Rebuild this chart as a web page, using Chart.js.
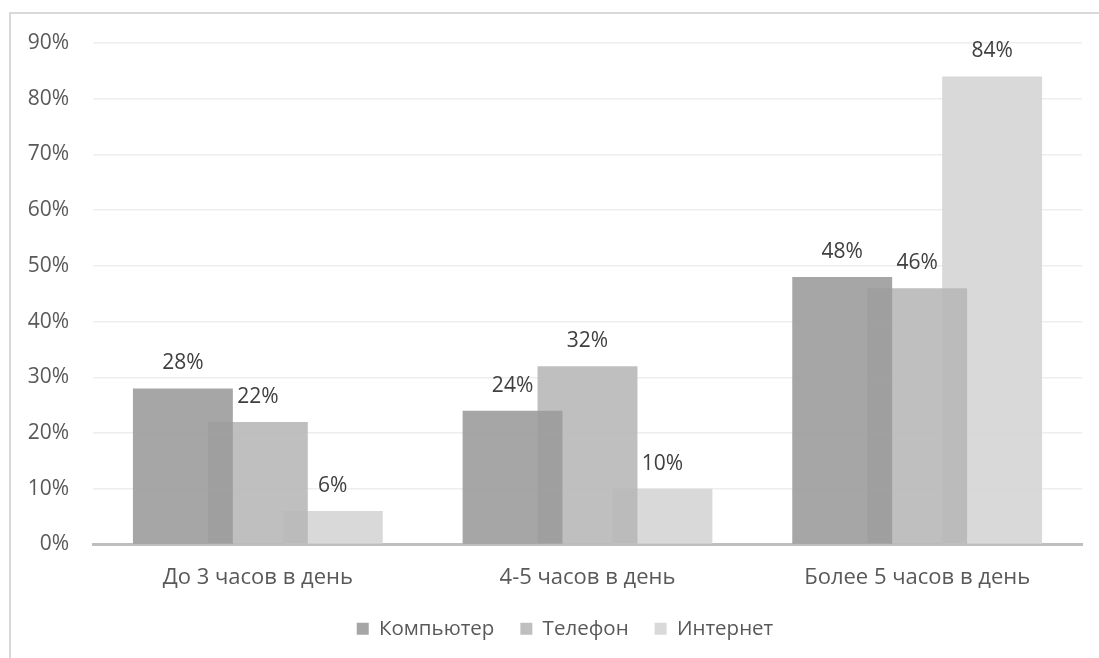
<!DOCTYPE html>
<html lang="ru">
<head>
<meta charset="utf-8">
<title>Время за компьютером, телефоном и в интернете</title>
<script src="https://cdn.jsdelivr.net/npm/chart.js@4.4.1/dist/chart.umd.min.js"></script>
<style>
    html, body { margin: 0; padding: 0; background: #ffffff; overflow: hidden; }
    #frame {
        position: absolute;
        left: 9px; top: 12px;
        width: 1100px; height: 700px;
        border: 2px solid #d9d9d9;
        box-sizing: border-box;
    }
    #wrap { position: absolute; left: 0; top: 0; width: 1099px; height: 658px; }
</style>
</head>
<body>
<div id="frame"></div>
<div id="wrap"><canvas id="timeChart"></canvas></div>
<script>
// =========================================================
// DATA
// =========================================================
const categories = ["До 3 часов в день", "4-5 часов в день", "Более 5 часов в день"];
const computerValues = [28, 24, 48];
const phoneValues = [22, 32, 46];
const internetValues = [6, 10, 84];
const seriesNames = ["Компьютер", "Телефон", "Интернет"];

const FONT = "'Open Sans', 'DejaVu Sans', sans-serif";

// =========================================================
// PLUGINS
// =========================================================

// value label above each bar
const barLabels = {
    id: "barLabels",
    afterDatasetsDraw(chart) {
        const ctx = chart.ctx;
        ctx.save();
        ctx.font = "21px " + FONT;
        ctx.fillStyle = "#404040";
        ctx.textAlign = "center";
        ctx.textBaseline = "middle";
        chart.data.datasets.forEach((ds, i) => {
            const meta = chart.getDatasetMeta(i);
            meta.data.forEach((bar, j) => {
                ctx.fillText(ds.data[j] + "%", bar.x, bar.y - 25);
            });
        });
        ctx.restore();
    }
};

// legend in the original sits a bit right of the canvas centre
const legendShift = {
    id: "legendShift",
    afterLayout(chart) {
        if (chart.legend) chart.legend.left += 48;
    }
};

function renderChart() {
    const ctx = document.getElementById("timeChart");

    new Chart(ctx, {
        type: "bar",
        data: {
            labels: categories,
            datasets: [
                { label: seriesNames[0], data: computerValues, backgroundColor: "rgba(156, 156, 156, 0.9)" },
                { label: seriesNames[1], data: phoneValues, backgroundColor: "rgba(184, 184, 184, 0.9)" },
                { label: seriesNames[2], data: internetValues, backgroundColor: "rgba(213, 213, 213, 0.9)" }
            ]
        },
        options: {
            responsive: true,
            maintainAspectRatio: false,
            animation: false,
            categoryPercentage: 0.682,
            barPercentage: 1.333,
            layout: { padding: { top: 43, right: 17, bottom: 9, left: 0 } },
            scales: {
                x: {
                    afterFit(scale) { scale.height = 48; },
                    grid: { display: false, drawTicks: false },
                    border: { display: true, color: "#bfbfbf", width: 3 },
                    ticks: { color: "#595959", font: { family: FONT, size: 22 }, padding: 20 }
                },
                y: {
                    min: 0,
                    max: 90,
                    afterFit(scale) { scale.width = 93; },
                    grid: { color: "#eeeeee", lineWidth: 1.5, drawTicks: false },
                    border: { display: false },
                    ticks: {
                        stepSize: 10,
                        color: "#595959",
                        font: { family: FONT, size: 21 },
                        padding: 24,
                        callback: v => v + "%"
                    }
                }
            },
            plugins: {
                legend: {
                    position: "bottom",
                    labels: {
                        color: "#595959",
                        font: { family: FONT, size: 20.5 },
                        boxWidth: 12,
                        boxHeight: 12,
                        padding: 26
                    }
                },
                tooltip: { enabled: false }
            }
        },
        plugins: [barLabels, legendShift]
    });
}

document.addEventListener("DOMContentLoaded", renderChart);
</script>
</body>
</html>
